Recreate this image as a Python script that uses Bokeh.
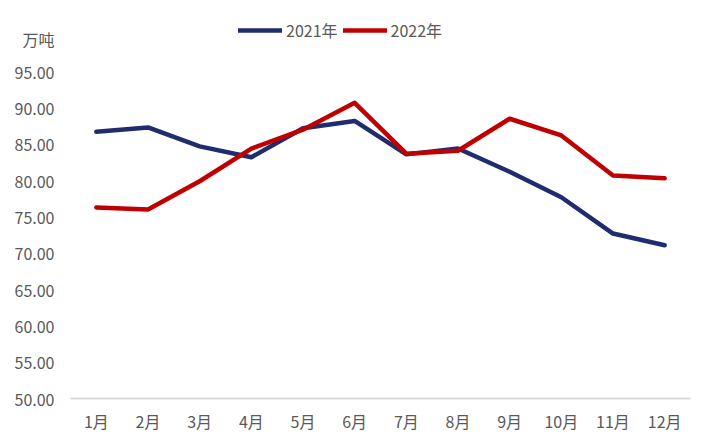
from bokeh.plotting import figure
from bokeh.models import (Range1d, FactorRange, FixedTicker, NumeralTickFormatter,
                          Legend, LegendItem)
from bokeh.embed import file_html
from bokeh.resources import INLINE

months = ["1月", "2月", "3月", "4月", "5月", "6月", "7月", "8月", "9月", "10月", "11月", "12月"]
y2021 = [86.7, 87.3, 84.7, 83.2, 87.2, 88.2, 83.6, 84.4, 81.2, 77.7, 72.7, 71.1]
y2022 = [76.3, 76.0, 79.9, 84.4, 87.0, 90.7, 83.7, 84.1, 88.5, 86.2, 80.7, 80.3]
y_ticks = [50, 55, 60, 65, 70, 75, 80, 85, 90, 95]
series_names = ["2021年", "2022年"]
unit_label = "万吨"

FONT = "Noto Sans CJK SC"
TXT = "#595959"
UNIT_POS = 99.5  # vertical spot (in axis units) where the unit caption sits above the ticks

p = figure(width=720, height=448, x_range=FactorRange(*months), y_range=Range1d(50, 103.4),
           output_backend="svg", toolbar_location=None,
           min_border_left=70, min_border_right=30, min_border_top=10, min_border_bottom=50)
p.outline_line_color = None
p.xgrid.visible = False
p.ygrid.visible = False

l1 = p.line(months, y2021, line_color="#1F2D6E", line_width=4.5, line_join="round", line_cap="round")
l2 = p.line(months, y2022, line_color="#C00000", line_width=4.5, line_join="round", line_cap="round")

p.yaxis.ticker = FixedTicker(ticks=y_ticks + [UNIT_POS])
p.yaxis.formatter = NumeralTickFormatter(format="0.00")
p.yaxis.major_label_overrides = {UNIT_POS: unit_label}
p.yaxis.axis_line_color = None
p.yaxis.major_tick_line_color = None
p.yaxis.minor_tick_line_color = None
p.yaxis.major_label_standoff = 10
p.yaxis.major_label_text_font = FONT
p.yaxis.major_label_text_font_size = "16px"
p.yaxis.major_label_text_color = TXT

p.xaxis.axis_line_color = "#D9D9D9"
p.xaxis.axis_line_width = 2
p.xaxis.major_tick_line_color = None
p.xaxis.minor_tick_line_color = None
p.xaxis.major_label_standoff = 4
p.xaxis.major_label_text_font = FONT
p.xaxis.major_label_text_font_size = "16px"
p.xaxis.major_label_text_color = TXT

legend = Legend(items=[LegendItem(label=series_names[0], renderers=[l1]),
                       LegendItem(label=series_names[1], renderers=[l2])],
                orientation="horizontal", location=(168, 356),
                padding=0, margin=0, spacing=5, label_standoff=4,
                glyph_width=44, glyph_height=20, label_height=20,
                border_line_color=None, background_fill_alpha=0,
                label_text_font=FONT, label_text_font_size="16px", label_text_color=TXT)
p.add_layout(legend, "center")

open("out.html", "w").write(file_html(p, INLINE))
